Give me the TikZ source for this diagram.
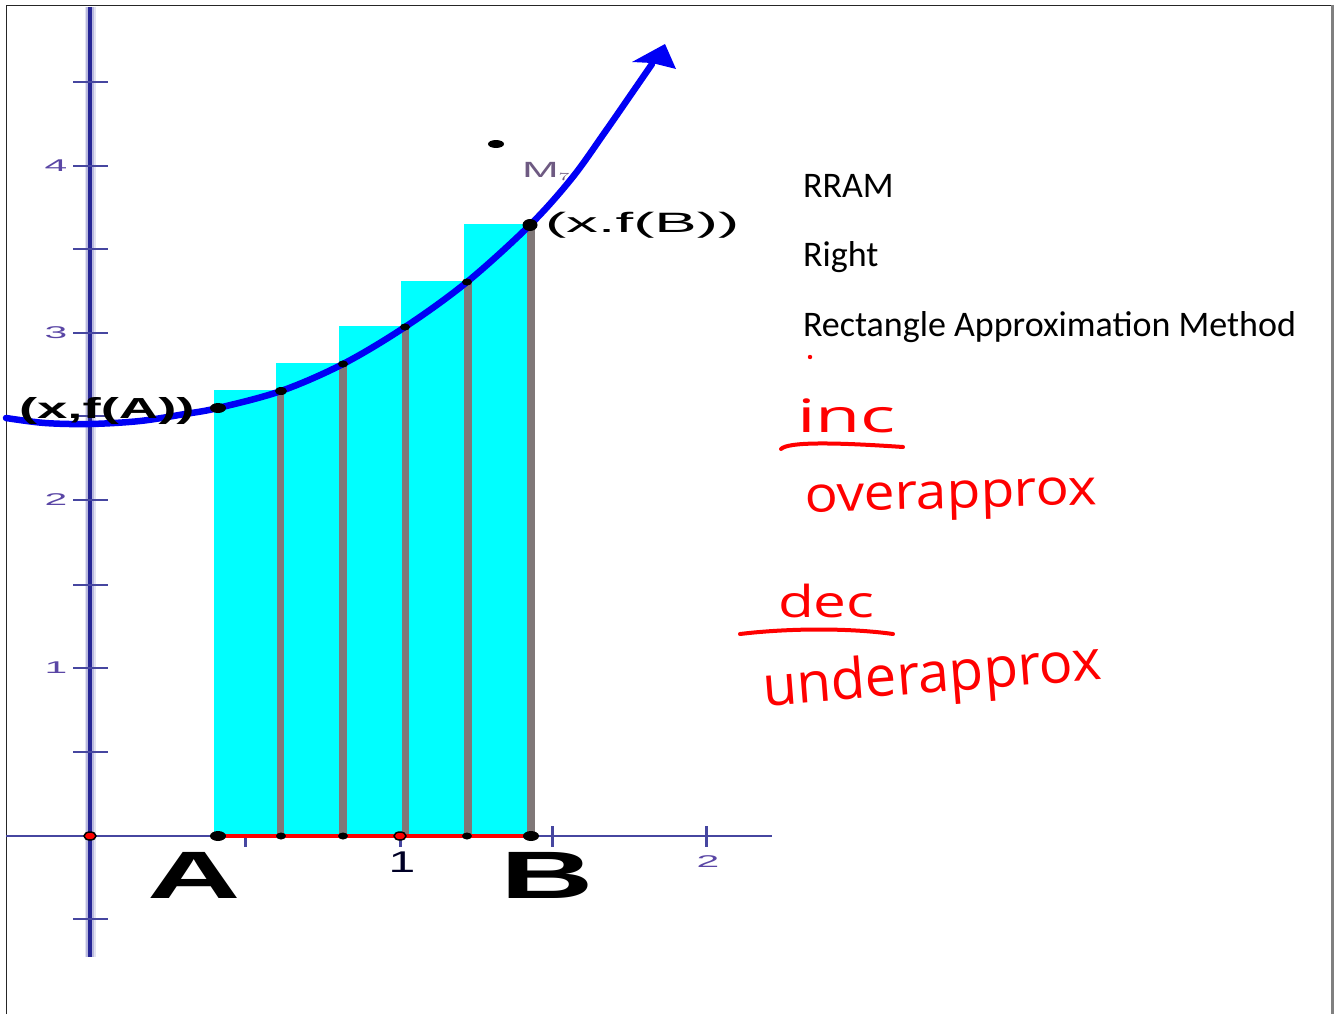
\documentclass[tikz,border=0pt]{standalone}
\usepackage{fontspec}
\setmainfont{Liberation Sans}
\newfontfamily\calfont{Carlito}
\newfontfamily\handfont{Open Sans}
\usetikzlibrary{arrows.meta}
\definecolor{axisnavy}{RGB}{38,38,150}
\definecolor{axishalo}{RGB}{185,185,222}
\definecolor{xaxiscol}{RGB}{70,70,160}
\definecolor{barg}{RGB}{128,120,120}
\definecolor{ticklab}{RGB}{90,70,165}
\definecolor{mlab}{RGB}{110,90,130}
\definecolor{cyanfill}{RGB}{0,255,255}
\definecolor{curveblue}{RGB}{0,0,245}
\tikzset{
  ytick/.style={xaxiscol, line width=2.5pt},
  xtick/.style={xaxiscol, line width=3pt},
  bar/.style={fill=barg},
  rectfill/.style={fill=cyanfill},
  lbl/.style={inner sep=0pt, outer sep=0pt},
  ticknum/.style={lbl, text=ticklab},
  hand/.style={lbl, anchor=base west, text=red},
  note/.style={lbl, anchor=base west, font=\calfont\fontsize{36}{40}\selectfont},
  redline/.style={red, line width=4pt, line cap=round, line join=round}
}
\begin{document}
\begin{tikzpicture}[x=1pt,y=-1pt]
\useasboundingbox (0,0) rectangle (1335,1014);
\fill[white] (0,0) rectangle (1335,1014);
% frame
\draw[black!85, line width=1.5pt] (6.5,1014) -- (6.5,5.5) -- (1331,5.5);
\draw[black!50, line width=3pt] (1332.5,5) -- (1332.5,1014);
% y axis
\draw[axishalo!40, line width=11pt] (90,7) -- (90,957);
\draw[axishalo, line width=7.5pt] (90,7) -- (90,957);
\draw[axisnavy, line width=4.5pt] (90,7) -- (90,957);
% x axis
\draw[xaxiscol, line width=2.5pt] (6,836) -- (772,836);
% ticks
\foreach \yy in {82,166,249,333,416,500,585,668,752,919}
  \draw[ytick] (73,\yy) -- (108,\yy);
\foreach \xx in {245,400,552,706}
  \draw[xtick] (\xx,826) -- (\xx,847);
% rectangles
\foreach \xl/\xr/\tp in {218/280.4/390, 280.4/342.8/363, 342.8/405.2/326, 405.2/467.6/281, 467.6/530/224}
  \fill[rectfill] (\xl-4,\tp) rectangle (\xr,836);
\foreach \xr/\tp in {280.4/391, 342.8/364, 405.2/327, 467.6/282, 530.5/225}
  \fill[bar] (\xr-3.5,\tp) rectangle (\xr+4,836);
% red segment
\draw[red, line width=4pt] (218,836) -- (530,836);
% curve
\draw[curveblue, line width=6.5pt, line cap=round] plot[smooth, tension=0.55] coordinates {
 (6,418) (45,423) (90,424) (140,421) (185,414) (218,408) (281,391) (343,364)
 (405,327) (467,282) (530,225) (572,178) (605,132) (632,93) (652,64)};
\fill[curveblue] (665,44) -- (632,62) -- (652,63) -- (676,69) -- cycle;
% dots on curve
\fill[black] (218,408) ellipse [x radius=8pt, y radius=5pt];
\fill[black] (281,391) ellipse [x radius=6pt, y radius=4pt];
\fill[black] (343,364) ellipse [x radius=5pt, y radius=3.5pt];
\fill[black] (405,327) ellipse [x radius=5pt, y radius=3.5pt];
\fill[black] (467,282) ellipse [x radius=5pt, y radius=3.5pt];
\fill[black] (530,225) ellipse [x radius=7.5pt, y radius=6pt];
% dots on axis
\fill[black] (218,836) ellipse [x radius=8pt, y radius=5pt];
\fill[black] (531,836) ellipse [x radius=8pt, y radius=5pt];
\fill[black] (281,836) ellipse [x radius=5pt, y radius=3.5pt];
\fill[black] (343,836) ellipse [x radius=5pt, y radius=3.5pt];
\fill[black] (467,836) ellipse [x radius=5pt, y radius=3.5pt];
\filldraw[fill=red, draw=black, line width=1.5pt] (90,836) ellipse [x radius=6pt, y radius=4pt];
\filldraw[fill=red, draw=black, line width=1.5pt] (400,836) ellipse [x radius=6pt, y radius=4pt];
% isolated point
\fill[black] (496,144) ellipse [x radius=8pt, y radius=4pt];
% tick labels
\node[ticknum] (y4) at (56,166) {\scalebox{2.4}[1]{\fontsize{17}{18}\selectfont 4}};
\node[ticknum] (y3) at (56,333) {\scalebox{2.4}[1]{\fontsize{17}{18}\selectfont 3}};
\node[ticknum] (y2) at (56,500) {\scalebox{2.4}[1]{\fontsize{17}{18}\selectfont 2}};
\node[ticknum] (y1) at (56,668) {\scalebox{2.4}[1]{\fontsize{17}{18}\selectfont 1}};
\node[ticknum] (x2) at (708,862) {\scalebox{2.4}[1]{\fontsize{17}{18}\selectfont 2}};
\node[lbl, text=black!85!blue] (x1) at (402,862) {\scalebox{1.6}[1]{\fontsize{30}{32}\selectfont 1}};
% point labels
\node[lbl, anchor=base west] (lblA) at (19,418) {\scalebox{1.88}[1]{\fontsize{29}{30}\selectfont\bfseries (x,f(A))}};
\node[lbl, anchor=base west] (lblB) at (545,232) {\scalebox{2.27}[1]{\fontsize{28}{30}\selectfont (x.f(B))}};
\node[lbl, anchor=base west] (bigA) at (147,898) {\scalebox{1.93}[1]{\fontsize{67}{70}\selectfont\bfseries A}};
\node[lbl, anchor=base west] (bigB) at (500,898) {\scalebox{1.93}[1]{\fontsize{67}{70}\selectfont\bfseries B}};
\node[lbl, anchor=base west, text=mlab] (mlbl) at (522,177) {\scalebox{2}[1]{\fontsize{22}{24}\selectfont M$_{\scriptscriptstyle 7}$}};
% right notes
\node[note] (rram) at (803,197) {RRAM};
\node[note] (right) at (803,266) {Right};
\node[note] (method) at (803,336) {Rectangle Approximation Method};
% handwritten notes
\fill[red] (810,357) circle [radius=2.2pt];
\node[hand] (inc) at (797,432) {\scalebox{1.6}[1]{\handfont\fontsize{46}{50}\selectfont inc}};
\draw[redline] (781,449) .. controls (788,442) and (830,442) .. (903,447);
\node[hand, rotate=1.5] (over) at (805,512) {\scalebox{1.1}[1]{\handfont\fontsize{50}{54}\selectfont overapprox}};
\node[hand] (dec) at (778,617) {\scalebox{1.33}[1]{\handfont\fontsize{44}{48}\selectfont dec}};
\draw[redline] (740,634) .. controls (790,628) and (850,628) .. (893,634);
\node[hand, rotate=4.5] (under) at (764,706) {\scalebox{1}[1]{\handfont\fontsize{56}{60}\selectfont underapprox}};
\end{tikzpicture}
\end{document}
